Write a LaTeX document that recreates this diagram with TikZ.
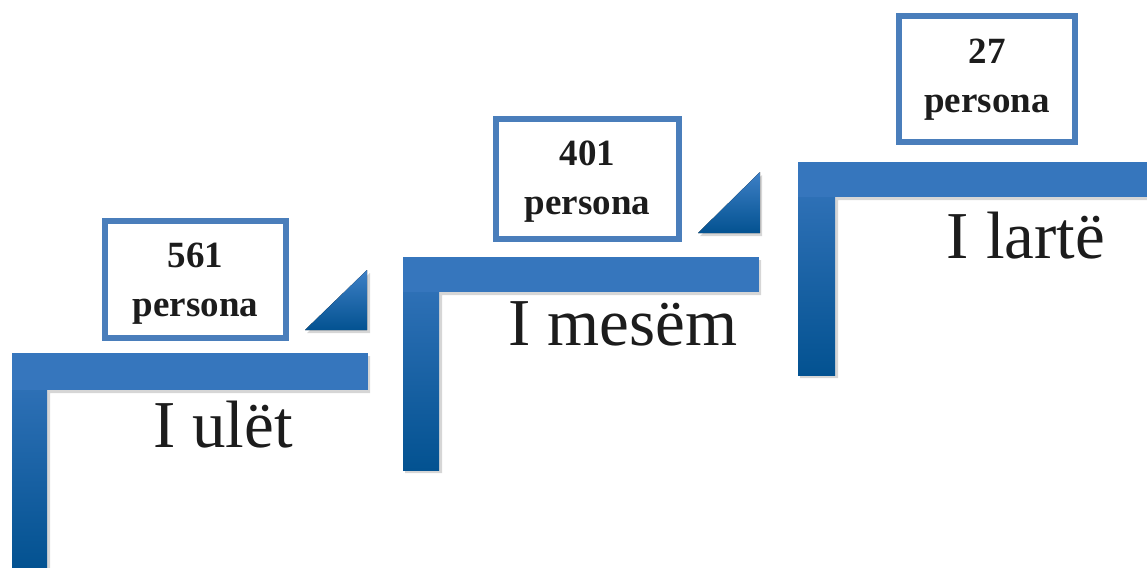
\documentclass[tikz,border=0pt]{standalone}
\usepackage{fontspec}
\setmainfont{Liberation Serif}
\definecolor{bartop}{RGB}{54,118,189}
\definecolor{barbot}{RGB}{3,82,145}
\definecolor{tritop}{RGB}{62,128,198}
\definecolor{boxblue}{RGB}{74,126,187}
\definecolor{txt}{RGB}{28,28,28}
\tikzset{
  barflat/.style={fill=bartop, draw=none},
  barshade/.style={top color=bartop, bottom color=barbot, draw=none},
  trishade/.style={top color=tritop, bottom color=barbot, draw=none},
  shadowfill/.style={fill=black, opacity=0.16, draw=none},
  countbox/.style={draw=boxblue, line width=6.5pt, fill=white},
  counttext/.style={font=\fontsize{37}{49}\selectfont\bfseries, align=center, text=txt},
  levellabel/.style={font=\fontsize{67}{67}\selectfont, text=txt, anchor=base}
}
\begin{document}
\begin{tikzpicture}[x=1pt,y=-1pt]
\useasboundingbox (0,0) rectangle (1147,567);
% ---------- step 1 ----------
\fill[shadowfill] (14,356) -- (370,356) -- (370,393) -- (50,393) -- (50,570) -- (14,570) -- cycle;
\fill[barshade] (12,353) rectangle (47,567);
\fill[barflat] (12,353) rectangle (368,390);
\fill[shadowfill] (307,333) -- (370,333) -- (370,273) -- cycle;
\fill[trishade] (305,330) -- (367,330) -- (367,270) -- cycle;
\draw[countbox] (105,221) rectangle (286,338);
\node[counttext] (n1) at (195.5,284) {561\\persona};
\node[levellabel] (l1) at (223,447) {I ulët};
% ---------- step 2 ----------
\fill[shadowfill] (405,260) -- (761,260) -- (761,295) -- (442,295) -- (442,473) -- (405,473) -- cycle;
\fill[barshade] (403,257) rectangle (439,470);
\fill[barflat] (403,257) rectangle (759,292);
\fill[shadowfill] (700,236) -- (762,236) -- (762,175) -- cycle;
\fill[trishade] (698,233) -- (760,233) -- (760,172) -- cycle;
\draw[countbox] (496,119) rectangle (679,239);
\node[counttext] (n2) at (587.5,182) {401\\persona};
\node[levellabel] (l2) at (623,345) {I mesëm};
% ---------- step 3 ----------
\fill[shadowfill] (800,165) -- (1147,165) -- (1147,200) -- (838,200) -- (838,378) -- (800,378) -- cycle;
\fill[barshade] (798,162) rectangle (835,375);
\fill[barflat] (798,162) rectangle (1147,197);
\draw[countbox] (899,16) rectangle (1075,142);
\node[counttext] (n3) at (987,80) {27\\persona};
\node[levellabel] (l3) at (1026,258) {I lartë};
\end{tikzpicture}
\end{document}
